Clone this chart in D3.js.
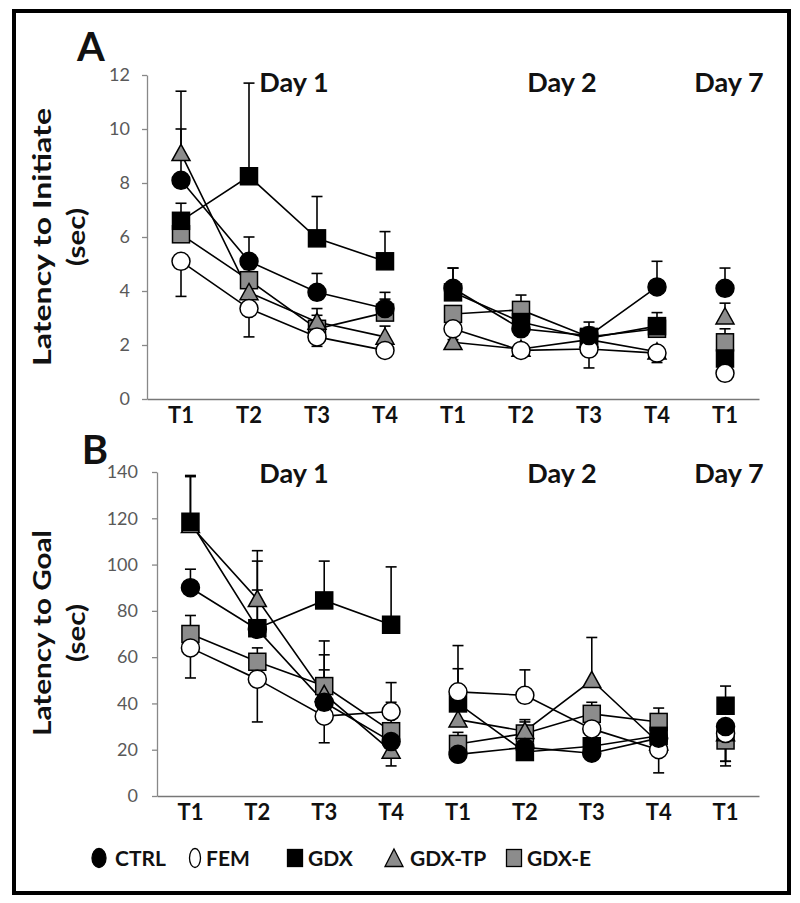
<!DOCTYPE html>
<html><head><meta charset="utf-8">
<script src="https://cdn.jsdelivr.net/npm/d3@7"></script>
<style>
html,body{margin:0;padding:0;background:#fff;}
svg{display:block;}
text{font-family:Lato,"Open Sans",sans-serif;}
</style></head>
<body>
<svg id="chart" width="800" height="903"></svg>
<script>
// ---------- data ----------
const categories = ["T1","T2","T3","T4","T1","T2","T3","T4","T1"];
const dayOf      = [1,1,1,1,2,2,2,2,7];
const dayLabels  = ["Day 1","Day 2","Day 7"];
const groups     = ["CTRL","FEM","GDX","GDX-TP","GDX-E"];

// Panel A: latency to initiate (sec)
const initCTRL = [8.1, 5.1, 3.95, 3.35, 4.1, 2.6, 2.35, 4.15, 4.1];
const initFEM  = [5.1, 3.35, 2.3, 1.8, 2.6, 1.8, 1.85, 1.7, 0.95];
const initGDX  = [6.6, 8.25, 5.95, 5.1, 3.95, 2.85, 2.25, 2.7, 1.5];
const initTP   = [9.1, 3.95, 2.85, 2.3, 2.1, 1.85, 2.2, 1.75, 3.05];
const initE    = [6.1, 4.4, 2.6, 3.2, 3.15, 3.3, 2.3, 2.6, 2.1];
const initErrCTRL = [1.9, 0.9, 0.7, 0.6, 0.75, 0.3, 0.3, 0.95, 0.75];
const initErrFEM  = [-1.3, -1.05, -0.35, -0.15, -0.2, -0.15, -0.7, -0.35, -0.1];
const initErrGDX  = [0.65, 3.45, 1.55, 1.1, 0.9, 0.5, 0.6, 0.5, 0.3];
const initErrTP   = [2.3, 0.5, 0.5, 0.4, 0.1, 0.2, 0.2, 0.2, 0.5];
const initErrE    = [0.5, 0.4, 0.5, 0.5, 0.3, 0.55, 0.3, 0.3, 0.5];
const initTicks   = [0,2,4,6,8,10,12];

// Panel B: latency to goal (sec)
const goalCTRL = [90, 72, 40.5, 23.5, 18, 21, 18.5, 25, 30];
const goalFEM  = [64, 50.5, 34.5, 36.5, 45, 43.5, 29, 20, 27];
const goalGDX  = [118.5, 72.5, 84.5, 74, 40, 19, 21.5, 26, 39];
const goalTP   = [117, 85, 44, 19.5, 33, 28, 50, 23, 27];
const goalE    = [70, 58, 47.5, 28, 22.5, 27, 35.5, 32, 24];
const goalErrCTRL = [8, 17, 14, 3, 3, 4, 3, 3, -15];
const goalErrFEM  = [-13, -18.5, -11.5, 4, 20, 11, 3, -10, -14];
const goalErrGDX  = [20, 29, 17, 25, 15, 3, 3, 3, 8.5];
const goalErrTP   = [21, 21, 23, -6.5, 5, 5, 18.5, 3, 3];
const goalErrE    = [8, 6, 13.5, 21, 5, 5, 5, 6, -9];
const goalTicks   = [0,20,40,60,80,100,120,140];

// ---------- styles ----------
const GRAY = "#8c8c8c";
const styles = {
  "CTRL":   {shape:"circle",   fill:"#000"},
  "FEM":    {shape:"circle",   fill:"#fff"},
  "GDX":    {shape:"square",   fill:"#000"},
  "GDX-TP": {shape:"triangle", fill:GRAY},
  "GDX-E":  {shape:"square",   fill:GRAY}
};
const drawOrder = ["GDX-E","GDX-TP","GDX","FEM","CTRL"];

const svg = d3.select("#chart");

// frame
svg.append("rect").attr("x",14).attr("y",11).attr("width",775).attr("height",882)
  .attr("fill","none").attr("stroke","#000").attr("stroke-width",4);

function marker(g, shape, fill, cx, cy, s) {
  if (shape === "circle") {
    g.append("circle").attr("cx",cx).attr("cy",cy).attr("r",s/2)
      .attr("fill",fill).attr("stroke","#000").attr("stroke-width",1.5);
  } else if (shape === "square") {
    g.append("rect").attr("x",cx-s/2+0.5).attr("y",cy-s/2+0.5).attr("width",s-1).attr("height",s-1)
      .attr("fill",fill).attr("stroke","#000").attr("stroke-width",1.5);
  } else {
    const h = s*0.9;
    g.append("path").attr("d",`M${cx},${cy-h*0.55}L${cx+s/2},${cy+h*0.45}L${cx-s/2},${cy+h*0.45}Z`)
      .attr("fill",fill).attr("stroke","#000").attr("stroke-width",1.5);
  }
}

function panel(cfg) {
  const x = d3.scaleBand().domain(d3.range(categories.length)).range([cfg.x0, 759]);
  const cx = i => x(i) + x.bandwidth()/2;
  const y = d3.scaleLinear().domain([0, cfg.max]).range([cfg.yb, cfg.yt]);
  const g = svg.append("g");

  // y axis
  const ya = g.append("g").attr("transform",`translate(${cfg.x0},0)`)
    .call(d3.axisLeft(y).tickValues(cfg.ticks).tickSize(5).tickSizeOuter(0).tickPadding(cfg.pad));
  ya.select(".domain").attr("stroke","#888").attr("stroke-width",1.3);
  ya.selectAll(".tick line").attr("stroke","#888").attr("stroke-width",1.3);
  ya.selectAll(".tick text").attr("fill","#595959").attr("font-size",18)
    .attr("font-family","Lato, sans-serif");

  // x axis
  const xa = g.append("g").attr("transform",`translate(0,${cfg.yb})`)
    .call(d3.axisBottom(x).tickSize(0).tickSizeOuter(0).tickPadding(8).tickFormat(i => categories[i]));
  xa.select(".domain").attr("stroke","#777").attr("stroke-width",1.3);
  xa.selectAll(".tick text").attr("fill","#111").attr("font-size",22).attr("font-weight","bold")
    .attr("font-family","Lato, sans-serif");

  // y title
  const tx = g.append("text").attr("transform",`translate(51,${cfg.tcy}) rotate(-90)`)
    .attr("text-anchor","middle").attr("font-size",25).attr("font-weight","bold").attr("fill","#111");
  tx.append("tspan").attr("x",0).attr("dy",0).attr("textLength",cfg.tlen)
    .attr("lengthAdjust","spacingAndGlyphs").text(cfg.title);
  tx.append("tspan").attr("x",0).attr("dy",34).attr("textLength",58)
    .attr("lengthAdjust","spacingAndGlyphs").text("(sec)");

  // panel letter
  g.append("text").attr("x",cfg.lx).attr("y",cfg.ly).attr("font-size",40).attr("font-weight","bold")
    .attr("fill","#111").attr("text-anchor","middle").text(cfg.letter);

  // day labels
  const dayX = [294, 562, 729];
  dayLabels.forEach((d,k) => {
    g.append("text").attr("x",dayX[k]).attr("y",cfg.dy).attr("text-anchor","middle")
      .attr("font-size",27).attr("font-weight","bold").attr("fill","#111").text(d);
  });

  // error bars
  drawOrder.forEach(name => {
    const vals = cfg.vals[name], errs = cfg.errs[name];
    vals.forEach((v,i) => {
      const e = errs[i];
      if (e == null) return;
      const y1 = y(v), y2 = y(v+e);
      g.append("line").attr("x1",cx(i)).attr("x2",cx(i)).attr("y1",y1).attr("y2",y2)
        .attr("stroke","#000").attr("stroke-width",1.6);
      g.append("line").attr("x1",cx(i)-5.5).attr("x2",cx(i)+5.5).attr("y1",y2).attr("y2",y2)
        .attr("stroke","#000").attr("stroke-width",1.6);
    });
  });

  // lines (connected within each day)
  const line = d3.line().x(d => cx(d.i)).y(d => y(d.v));
  drawOrder.forEach(name => {
    const vals = cfg.vals[name];
    [1,2,7].forEach(dd => {
      const pts = vals.map((v,i)=>({v,i})).filter(p => dayOf[p.i] === dd);
      if (pts.length > 1)
        g.append("path").attr("d",line(pts)).attr("fill","none").attr("stroke","#000").attr("stroke-width",1.6);
    });
  });

  // markers
  drawOrder.forEach(name => {
    const st = styles[name];
    cfg.vals[name].forEach((v,i) => marker(g, st.shape, st.fill, cx(i), y(v), 18));
  });
}

panel({
  letter:"A", lx:91, ly:61, dy:92, x0:147, yb:399, yt:75, max:12, ticks:initTicks, pad:12,
  title:"Latency to Initiate", tcy:237, tlen:258,
  vals:{"CTRL":initCTRL,"FEM":initFEM,"GDX":initGDX,"GDX-TP":initTP,"GDX-E":initE},
  errs:{"CTRL":initErrCTRL,"FEM":initErrFEM,"GDX":initErrGDX,"GDX-TP":initErrTP,"GDX-E":initErrE}
});
panel({
  letter:"B", lx:95, ly:464, dy:483, x0:157, yb:796, yt:472, max:140, ticks:goalTicks, pad:14,
  title:"Latency to Goal", tcy:633, tlen:206,
  vals:{"CTRL":goalCTRL,"FEM":goalFEM,"GDX":goalGDX,"GDX-TP":goalTP,"GDX-E":goalE},
  errs:{"CTRL":goalErrCTRL,"FEM":goalErrFEM,"GDX":goalErrGDX,"GDX-TP":goalErrTP,"GDX-E":goalErrE}
});

// legend
const legX = [99, 195, 295, 394, 514];
const legTX = [115, 206, 308, 410, 527];
const lg = svg.append("g");
groups.forEach((name,k) => {
  const st = styles[name];
  const cx = legX[k], cy = 858;
  if (st.shape === "circle") {
    lg.append("ellipse").attr("cx",cx).attr("cy",cy).attr("rx",st.fill==="#fff"?5.5:7).attr("ry",9.5)
      .attr("fill",st.fill).attr("stroke","#000").attr("stroke-width",1.3);
  } else if (st.shape === "square") {
    lg.append("rect").attr("x",cx-7.5).attr("y",cy-8.5).attr("width",15).attr("height",17)
      .attr("fill",st.fill).attr("stroke","#000").attr("stroke-width",1.3);
  } else {
    lg.append("path").attr("d",`M${cx},${cy-9}L${cx+9},${cy+8.5}L${cx-9},${cy+8.5}Z`)
      .attr("fill",st.fill).attr("stroke","#000").attr("stroke-width",1.3);
  }
  lg.append("text").attr("x",legTX[k]).attr("y",866).attr("font-size",21).attr("font-weight","bold")
    .attr("fill","#111").text(name);
});
</script>
</body></html>
